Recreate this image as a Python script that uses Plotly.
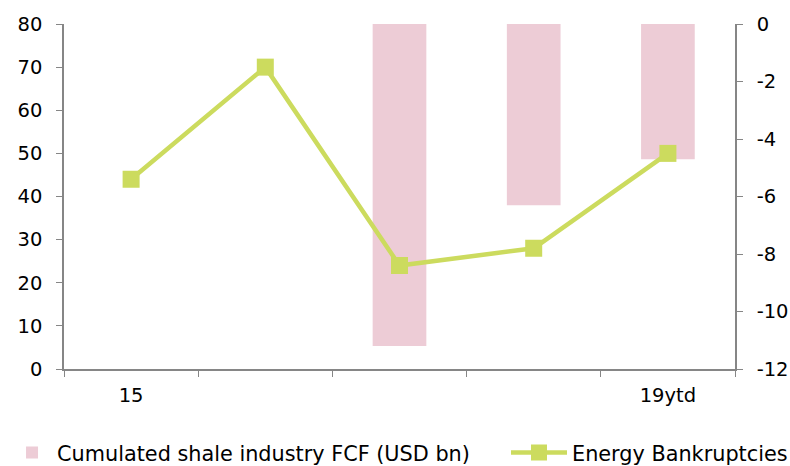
import plotly.graph_objects as go

categories = ["15", "16", "17", "18", "19ytd"]
tick_labels = ["15", "", "", "", "19ytd"]
fcf_values = [None, None, -11.2, -6.3, -4.7]
bankruptcies = [44, 70, 24, 28, 50]
right_ticks = [0, -2, -4, -6, -8, -10, -12]
right_tick_labels = ["0", "-2", "-4", "-6", "-8", "-10", "-12"]
left_ticks = [0, 10, 20, 30, 40, 50, 60, 70, 80]

FONT = "DejaVu Sans, Liberation Sans, Arial, sans-serif"
AXIS_COLOR = "#868686"
FS = 19.5
LEG_FS = 20.8

fig = go.Figure()
fig.add_trace(go.Bar(
    x=categories, y=fcf_values, base=0,
    name="Cumulated shale industry FCF (USD bn)",
    marker=dict(color="#EDCCD6", line=dict(width=0)),
    width=0.4, yaxis="y", legend="legend",
))
fig.add_trace(go.Scatter(
    x=categories, y=bankruptcies, mode="lines+markers",
    name="Energy Bankruptcies",
    line=dict(color="#CCDB5E", width=4.5),
    marker=dict(symbol="square", size=17, color="#CCDB5E"),
    yaxis="y2", legend="legend2",
))

leg_common = dict(orientation="h", xref="container", yref="container",
                  y=0.028, xanchor="left", yanchor="middle",
                  font=dict(size=LEG_FS, family=FONT), tracegroupgap=0,
                  bgcolor="rgba(0,0,0,0)")

fig.update_layout(
    width=790, height=466,
    margin=dict(l=64, r=55, t=24, b=97, autoexpand=False),
    paper_bgcolor="white", plot_bgcolor="white",
    font=dict(family=FONT, size=FS, color="black"),
    showlegend=True,
    legend=dict(x=0.0089, itemwidth=40, **leg_common),
    legend2=dict(x=0.6405, itemwidth=56, **leg_common),
    xaxis=dict(
        type="category", categoryorder="array", categoryarray=categories,
        tickmode="array", tickvals=categories, ticktext=tick_labels,
        tickson="boundaries", ticks="outside", ticklen=6, tickcolor=AXIS_COLOR,
        showline=True, linecolor=AXIS_COLOR, linewidth=1.5,
        showgrid=False, range=[-0.5, 4.5], automargin=False,
        ticklabelstandoff=8, tickfont=dict(size=FS),
    ),
    yaxis=dict(
        side="right", range=[-12, 0], tickmode="array",
        tickvals=right_ticks, ticktext=right_tick_labels,
        ticks="outside", ticklen=6, tickcolor=AXIS_COLOR,
        showline=True, linecolor=AXIS_COLOR, linewidth=1.5,
        showgrid=False, zeroline=False, automargin=False,
        ticklabelstandoff=10, tickfont=dict(size=FS),
    ),
    yaxis2=dict(
        side="left", overlaying="y", range=[0, 80], tickmode="array",
        tickvals=left_ticks,
        ticks="outside", ticklen=6, tickcolor=AXIS_COLOR,
        showline=True, linecolor=AXIS_COLOR, linewidth=1.5,
        showgrid=False, zeroline=False, automargin=False,
        ticklabelstandoff=10, tickfont=dict(size=FS),
    ),
)

fig.write_html("out.html")
